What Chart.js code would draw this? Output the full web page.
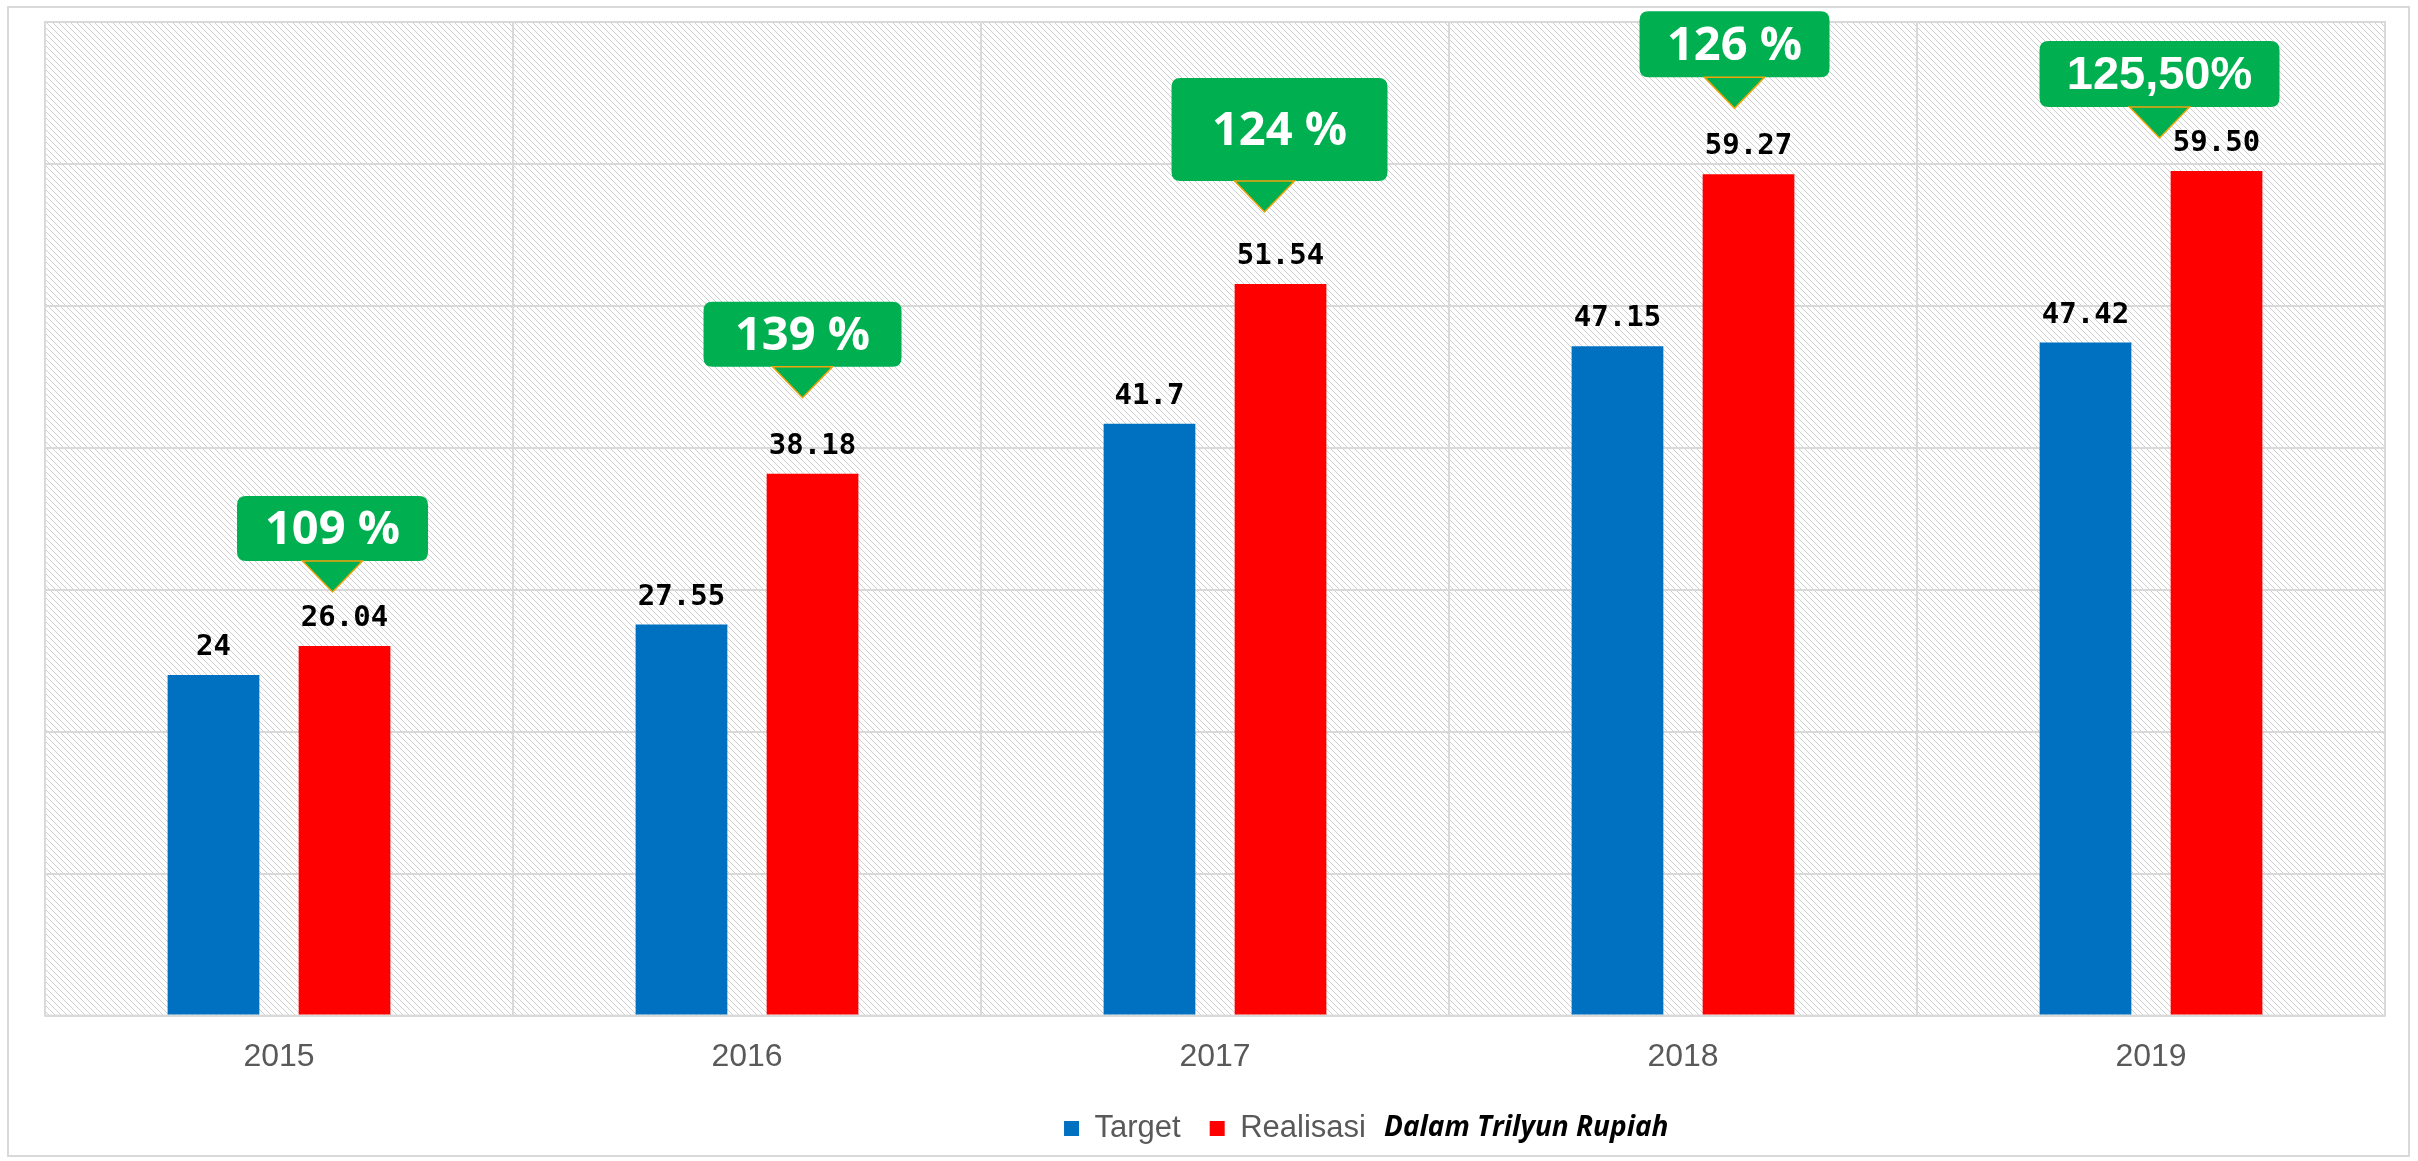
<!DOCTYPE html>
<html>
<head>
<meta charset="utf-8">
<script src="https://cdn.jsdelivr.net/npm/chart.js@4.4.1/dist/chart.umd.min.js"></script>
<style>
  html, body { margin: 0; padding: 0; background: #fff; }
  #wrap { width: 2418px; height: 1161px; }
</style>
</head>
<body>
<div id="wrap"><canvas id="chart-target" width="2418" height="1161"></canvas></div>
<script>
var years = ["2015", "2016", "2017", "2018", "2019"];
var targetValues = [24, 27.55, 41.7, 47.15, 47.42];
var realisasiValues = [26.04, 38.18, 51.54, 59.27, 59.50];
var ratioLabels = ["109 %", "139 %", "124 %", "126 %", "125,50%"];
var yMin = 0;
var yMax = 70;
var yStep = 10;

// callout placement relative to the red bar (apex offset, box size)
var calloutStyle = [
  { dx: -12, dy: -54, w: 191, h: 65, shift: 0 },
  { dx: -10, dy: -76, w: 198, h: 65, shift: 0 },
  { dx: -16, dy: -72, w: 216, h: 103, shift: 15 },
  { dx: -14, dy: -66, w: 190, h: 66, shift: 0 },
  { dx: -57, dy: -33, w: 240, h: 66, shift: 0, family: "'Liberation Sans', Arial" }
];

function makeHatch() {
  var c = document.createElement("canvas");
  c.width = 6; c.height = 6;
  var g = c.getContext("2d");
  g.fillStyle = "#fff";
  g.fillRect(0, 0, 6, 6);
  g.fillStyle = "#cfcfcf";
  for (var i = 0; i < 6; i++) g.fillRect(i, i, 1, 1);
  return c;
}

var backdrop = {
  id: "backdrop",
  afterLayout: function(chart) {
    // lift the legend row a little, like the original
    var lg = chart.legend, lift = 14;
    if (!lg) return;
    lg.top -= lift;
    lg.bottom -= lift;
  },
  beforeDraw: function(chart) {
    var ctx = chart.ctx, a = chart.chartArea;
    ctx.save();
    ctx.fillStyle = "#fff";
    ctx.fillRect(0, 0, chart.width, chart.height);
    ctx.strokeStyle = "#d9d9d9";
    ctx.lineWidth = 2;
    ctx.strokeRect(8, 7, chart.width - 17, chart.height - 12);
    ctx.fillStyle = ctx.createPattern(makeHatch(), "repeat");
    ctx.fillRect(a.left, a.top, a.right - a.left, a.bottom - a.top);
    ctx.strokeRect(a.left, a.top, a.right - a.left, a.bottom - a.top);
    ctx.restore();
  }
};

var valueLabels = {
  id: "valueLabels",
  afterDatasetsDraw: function(chart) {
    var ctx = chart.ctx;
    ctx.save();
    ctx.font = "bold 29px 'DejaVu Sans Mono'";
    ctx.fillStyle = "#000";
    ctx.textAlign = "center";
    ctx.textBaseline = "alphabetic";
    chart.data.datasets.forEach(function(ds, di) {
      chart.getDatasetMeta(di).data.forEach(function(bar, i) {
        var v = ds.data[i];
        var txt = di === 0 ? String(v) : v.toFixed(2);
        ctx.fillText(txt, bar.x, bar.y - 20);
      });
    });
    ctx.restore();
  }
};

function roundRect(ctx, x, y, w, h, r) {
  ctx.beginPath();
  ctx.moveTo(x + r, y);
  ctx.lineTo(x + w - r, y);
  ctx.quadraticCurveTo(x + w, y, x + w, y + r);
  ctx.lineTo(x + w, y + h - r);
  ctx.quadraticCurveTo(x + w, y + h, x + w - r, y + h);
  ctx.lineTo(x + r, y + h);
  ctx.quadraticCurveTo(x, y + h, x, y + h - r);
  ctx.lineTo(x, y + r);
  ctx.quadraticCurveTo(x, y, x + r, y);
  ctx.closePath();
}

var callouts = {
  id: "callouts",
  afterDraw: function(chart) {
    var ctx = chart.ctx;
    var bars = chart.getDatasetMeta(1).data;
    ctx.save();
    bars.forEach(function(bar, i) {
      var s = calloutStyle[i];
      var ax = bar.x + s.dx, ay = bar.y + s.dy;
      var triH = 31, triW = 30;
      var bottom = ay - triH;
      var cx = ax + s.shift;
      var left = cx - s.w / 2, top = bottom - s.h;
      ctx.fillStyle = "#00b050";
      roundRect(ctx, left, top, s.w, s.h, 9);
      ctx.fill();
      ctx.beginPath();
      ctx.moveTo(ax - triW, bottom);
      ctx.lineTo(ax + triW, bottom);
      ctx.lineTo(ax, ay);
      ctx.closePath();
      ctx.fill();
      ctx.strokeStyle = "#f0a30a";
      ctx.lineWidth = 1.5;
      ctx.stroke();
      ctx.fillStyle = "#fff";
      ctx.font = "bold 47px " + (s.family || "'Open Sans'");
      ctx.textAlign = "center";
      ctx.textBaseline = "middle";
      ctx.fillText(ratioLabels[i], cx, top + s.h / 2 + 2);
    });

    // unit note next to the legend
    var boxes = chart.legend.legendHitBoxes;
    var last = boxes[boxes.length - 1];
    ctx.font = "italic bold 28px 'Open Sans'";
    ctx.fillStyle = "#000";
    ctx.textAlign = "left";
    ctx.textBaseline = "middle";
    ctx.fillText("Dalam Trilyun Rupiah", last.left + last.width + 18, last.top + last.height / 2);
    ctx.restore();
  }
};

var ctx_main = document.getElementById("chart-target").getContext("2d");

new Chart(ctx_main, {
  type: "bar",
  data: {
    labels: years,
    datasets: [{
      label: "Target",
      backgroundColor: "#0070c0",
      borderWidth: 0,
      data: targetValues,
      categoryPercentage: 0.56,
      barPercentage: 0.70
    }, {
      label: "Realisasi",
      backgroundColor: "#ff0000",
      borderWidth: 0,
      data: realisasiValues,
      categoryPercentage: 0.56,
      barPercentage: 0.70
    }]
  },
  options: {
    responsive: false,
    devicePixelRatio: 1,
    animation: false,
    layout: {
      padding: { left: 45, right: 33, top: 22, bottom: -7 }
    },
    plugins: {
      legend: {
        display: true,
        position: "bottom",
        labels: {
          boxWidth: 15,
          boxHeight: 15,
          padding: 29,
          color: "#595959",
          font: { size: 31, family: "'Liberation Sans', Arial" }
        }
      },
      tooltip: { enabled: false }
    },
    scales: {
      y: {
        min: yMin,
        max: yMax,
        ticks: { stepSize: yStep, display: false },
        border: { display: false },
        grid: { color: "#d9d9d9", lineWidth: 2, drawTicks: false }
      },
      x: {
        border: { display: false },
        grid: { color: "#d9d9d9", lineWidth: 2, drawTicks: false, offset: true },
        ticks: {
          color: "#595959",
          padding: 22,
          font: { size: 32, family: "'Liberation Sans', Arial" }
        }
      }
    }
  },
  plugins: [backdrop, valueLabels, callouts]
});
</script>
</body>
</html>
